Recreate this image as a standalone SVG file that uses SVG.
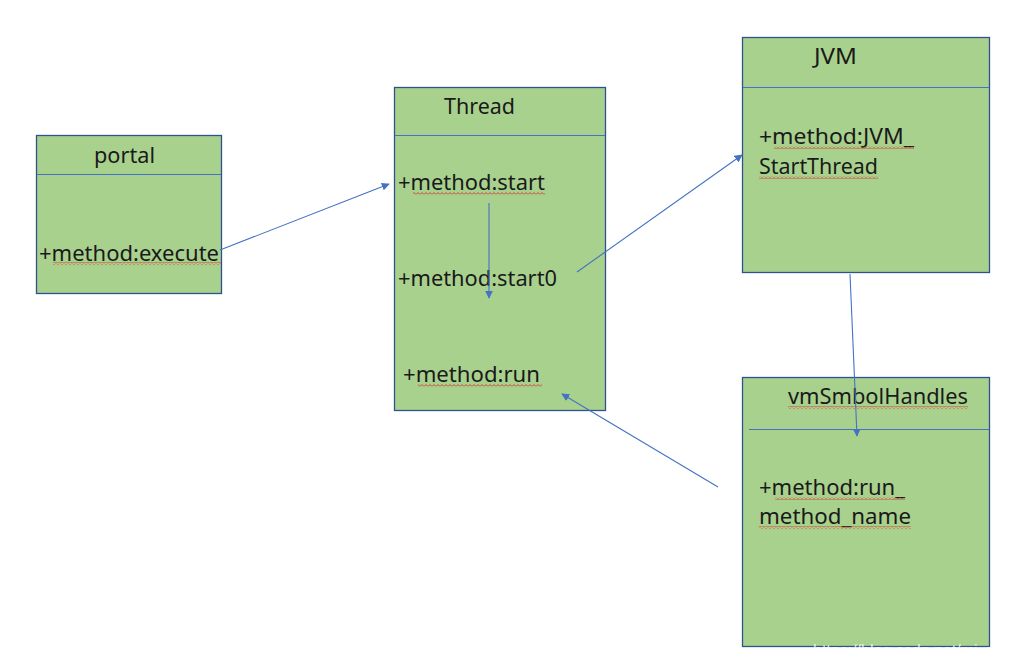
<svg xmlns="http://www.w3.org/2000/svg" width="1035" height="668" viewBox="0 0 1035 668">
<style>
.box{fill:#a9d18e;stroke:#2f528f;stroke-width:1.3}
.div{stroke:#4472c4;stroke-width:1}
.t{font-family:"Noto Sans","Liberation Sans",sans-serif;font-size:21px;fill:#1a1a1a}
.sq{fill:url(#wave)}
.conn{stroke:#4472c4;stroke-width:1.1;fill:none;marker-end:url(#ah)}
.wm{font-family:"Liberation Sans",sans-serif;font-size:16px;fill:#ffffff;fill-opacity:0.8}
</style>
<defs>
<marker id="ah" viewBox="0 0 10 10" refX="9" refY="5" markerWidth="8" markerHeight="8" markerUnits="userSpaceOnUse" orient="auto">
<path d="M0,0 L10,5 L0,10 Z" fill="#4472c4"/>
</marker>
<pattern id="wave" x="0" y="0" width="4" height="3" patternUnits="userSpaceOnUse">
<path d="M0,2.5 L2,0.5 L4,2.5" stroke="#e02020" stroke-width="0.8" fill="none"/>
</pattern>
</defs>
<rect width="1035" height="668" fill="#ffffff"/>

<g id="portal">
<rect class="box" x="36.5" y="135.5" width="185" height="158"/>
<line class="div" x1="37" y1="174.5" x2="221" y2="174.5"/>
<text class="t" x="94" y="163" textLength="61" lengthAdjust="spacingAndGlyphs">portal</text>
<text class="t" x="39" y="261" textLength="180" lengthAdjust="spacingAndGlyphs">+method:execute</text>
<rect class="sq" x="53" y="262" width="168" height="3"/>
</g>

<g id="thread">
<rect class="box" x="394.5" y="87.5" width="211" height="323"/>
<line class="div" x1="395" y1="135.5" x2="605" y2="135.5"/>
<text class="t" x="444" y="114" textLength="71" lengthAdjust="spacingAndGlyphs">Thread</text>
<text class="t" x="398" y="190" textLength="147" lengthAdjust="spacingAndGlyphs">+method:start</text>
<rect class="sq" x="413" y="192" width="132" height="3"/>
<text class="t" x="398" y="286" textLength="159" lengthAdjust="spacingAndGlyphs">+method:start0</text>
<text class="t" x="403" y="382" textLength="137" lengthAdjust="spacingAndGlyphs">+method:run</text>
<rect class="sq" x="418" y="384" width="124" height="3"/>
</g>

<g id="jvm">
<rect class="box" x="742.5" y="37.5" width="247" height="235"/>
<line class="div" x1="743" y1="87.5" x2="989" y2="87.5"/>
<text class="t" x="814" y="64" textLength="43" lengthAdjust="spacingAndGlyphs">JVM</text>
<text class="t" x="759" y="144" textLength="155" lengthAdjust="spacingAndGlyphs">+method:JVM_</text>
<rect class="sq" x="774" y="146" width="140" height="3"/>
<text class="t" x="759" y="174" textLength="119" lengthAdjust="spacingAndGlyphs">StartThread</text>
<rect class="sq" x="759" y="176" width="119" height="3"/>
</g>

<g id="vmSmbolHandles">
<rect class="box" x="742.5" y="377.5" width="247" height="269"/>
<line class="div" x1="749" y1="429.5" x2="989" y2="429.5"/>
<text class="t" x="788" y="404" textLength="180" lengthAdjust="spacingAndGlyphs">vmSmbolHandles</text>
<rect class="sq" x="788" y="406" width="180" height="3"/>
<text class="t" x="759" y="495" textLength="146" lengthAdjust="spacingAndGlyphs">+method:run_</text>
<rect class="sq" x="775" y="497" width="130" height="3"/>
<text class="t" x="759" y="524" textLength="152" lengthAdjust="spacingAndGlyphs">method_name</text>
<rect class="sq" x="759" y="526" width="152" height="3"/>
</g>

<g id="connectors">
<line class="conn" x1="220" y1="250" x2="389" y2="184"/>
<line class="conn" x1="489" y1="203" x2="489" y2="298"/>
<line class="conn" x1="577" y1="272" x2="742" y2="155"/>
<line class="conn" x1="850" y1="274" x2="857" y2="436"/>
<line class="conn" x1="718" y1="487" x2="562" y2="394"/>
</g>

<text class="wm" x="813" y="656">https://blog.csdn.net/mi_zhi_lu</text>
</svg>
